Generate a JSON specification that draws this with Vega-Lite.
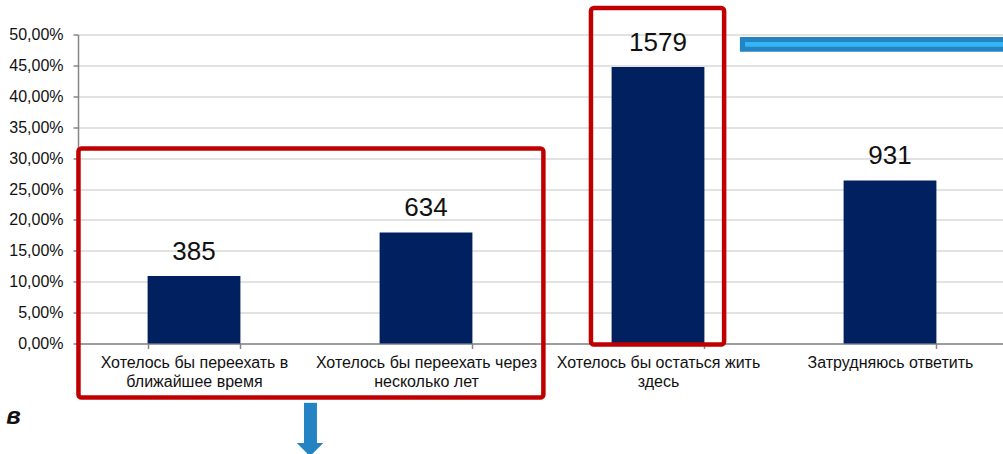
{
  "$schema": "https://vega.github.io/schema/vega-lite/v6.json",
  "width": 928,
  "height": 309,
  "autosize": "none",
  "padding": {"left": 78, "top": 34.5, "right": 0, "bottom": 110.5},
  "config": {"view": {"stroke": null}, "font": "Liberation Sans"},
  "layer": [
    {
      "data": {"values": [
        {"category": "Хотелось бы переехать в ближайшее время", "pct": 0.1091, "count": 385},
        {"category": "Хотелось бы переехать через несколько лет", "pct": 0.1797, "count": 634},
        {"category": "Хотелось бы остаться жить здесь", "pct": 0.4474, "count": 1579},
        {"category": "Затрудняюсь ответить", "pct": 0.2638, "count": 931}
      ]},
      "encoding": {
        "x": {
          "field": "category", "type": "nominal", "sort": null,
          "scale": {"paddingInner": 0.6, "paddingOuter": 0.3},
          "axis": {
            "title": null, "labelAngle": 0, "labelFontSize": 16, "labelLineHeight": 19,
            "labelPadding": 6, "labelColor": "#111", "labelLimit": 400,
            "tickBand": "extent", "tickSize": 5, "tickColor": "#868686", "tickWidth": 1.5,
            "domainColor": "#868686", "domainWidth": 1.5,
            "labelExpr": "datum.label == 'Хотелось бы переехать в ближайшее время' ? ['Хотелось бы переехать в', 'ближайшее время'] : datum.label == 'Хотелось бы переехать через несколько лет' ? ['Хотелось бы переехать через', 'несколько лет'] : datum.label == 'Хотелось бы остаться жить здесь' ? ['Хотелось бы остаться жить', 'здесь'] : datum.label"
          }
        },
        "y": {
          "field": "pct", "type": "quantitative",
          "scale": {"domain": [0, 0.5], "nice": false},
          "axis": {
            "title": null,
            "values": [0, 0.05, 0.1, 0.15, 0.2, 0.25, 0.3, 0.35, 0.4, 0.45, 0.5],
            "labelExpr": "replace(format(datum.value, '.2%'), '.', ',')",
            "labelOverlap": false,
            "labelFontSize": 16, "labelColor": "#111", "labelPadding": 10,
            "tickSize": 5, "tickColor": "#868686", "tickWidth": 1.5,
            "domainColor": "#868686", "domainWidth": 1.5,
            "gridColor": "#d9d9d9", "gridWidth": 1.5
          }
        }
      },
      "layer": [
        {"mark": {"type": "bar", "color": "#002060"}},
        {
          "mark": {"type": "text", "baseline": "alphabetic", "dy": -16, "fontSize": 26, "color": "#111"},
          "encoding": {"text": {"field": "count", "type": "quantitative"}}
        }
      ]
    },
    {
      "layer": [
        {
          "data": {"values": [
            {"x0": 0.002, "x1": 2.006, "y0": 0.3155, "y1": -0.0874},
            {"x0": 2.211, "x1": 2.785, "y0": 0.543, "y1": -0.0016}
          ]},
          "mark": {"type": "rect", "fill": "transparent", "stroke": "#c00000", "strokeWidth": 4.5, "cornerRadius": 3},
          "encoding": {
            "x": {"field": "x0", "type": "quantitative", "scale": {"domain": [0, 4], "nice": false, "zero": false}, "axis": null},
            "x2": {"field": "x1"},
            "y": {"field": "y0", "type": "quantitative", "scale": {"domain": [0, 0.5], "nice": false},
              "axis": {
                "title": null,
                "values": [0, 0.05, 0.1, 0.15, 0.2, 0.25, 0.3, 0.35, 0.4, 0.45, 0.5],
                "labelExpr": "replace(format(datum.value, '.2%'), '.', ',')",
                "labelOverlap": false,
                "labelFontSize": 16, "labelColor": "#111", "labelPadding": 10,
                "tickSize": 5, "tickColor": "#868686", "tickWidth": 1.5,
                "domainColor": "#868686", "domainWidth": 1.5,
                "gridColor": "#d9d9d9", "gridWidth": 1.5
              }},
            "y2": {"field": "y1"}
          }
        },
        {
          "data": {"values": [
            {"x0": 2.853, "x1": 4.2, "y0": 0.496, "y1": 0.472, "part": "outer"},
            {"x0": 0.974, "x1": 1.030, "y0": -0.096, "y1": -0.163, "part": "outer"},
            {"x0": 2.875, "x1": 4.2, "y0": 0.488, "y1": 0.480, "part": "inner"}
          ]},
          "mark": {"type": "rect"},
          "encoding": {
            "x": {"field": "x0", "type": "quantitative", "scale": {"domain": [0, 4], "nice": false, "zero": false}, "axis": null},
            "x2": {"field": "x1"},
            "y": {"field": "y0", "type": "quantitative", "scale": {"domain": [0, 0.5], "nice": false},
              "axis": {
                "title": null,
                "values": [0, 0.05, 0.1, 0.15, 0.2, 0.25, 0.3, 0.35, 0.4, 0.45, 0.5],
                "labelExpr": "replace(format(datum.value, '.2%'), '.', ',')",
                "labelOverlap": false,
                "labelFontSize": 16, "labelColor": "#111", "labelPadding": 10,
                "tickSize": 5, "tickColor": "#868686", "tickWidth": 1.5,
                "domainColor": "#868686", "domainWidth": 1.5,
                "gridColor": "#d9d9d9", "gridWidth": 1.5
              }},
            "y2": {"field": "y1"},
            "color": {"field": "part", "type": "nominal", "scale": {"domain": ["outer", "inner"], "range": ["#2484c3", "#35b6f4"]}, "legend": null}
          }
        },
        {
          "data": {"values": [{"x": 1.0, "y": -0.161}]},
          "mark": {"type": "point", "shape": "M-1,0L1,0L0,1Z", "filled": true, "size": 700, "color": "#2484c3", "opacity": 1},
          "encoding": {
            "x": {"field": "x", "type": "quantitative", "scale": {"domain": [0, 4], "nice": false, "zero": false}, "axis": null},
            "y": {"field": "y", "type": "quantitative", "scale": {"domain": [0, 0.5], "nice": false},
              "axis": {
                "title": null,
                "values": [0, 0.05, 0.1, 0.15, 0.2, 0.25, 0.3, 0.35, 0.4, 0.45, 0.5],
                "labelExpr": "replace(format(datum.value, '.2%'), '.', ',')",
                "labelOverlap": false,
                "labelFontSize": 16, "labelColor": "#111", "labelPadding": 10,
                "tickSize": 5, "tickColor": "#868686", "tickWidth": 1.5,
                "domainColor": "#868686", "domainWidth": 1.5,
                "gridColor": "#d9d9d9", "gridWidth": 1.5
              }}
          }
        },
        {
          "data": {"values": [{"x": -0.278, "y": -0.13, "t": "в"}]},
          "mark": {"type": "text", "baseline": "alphabetic", "fontSize": 24, "fontStyle": "italic", "fontWeight": "bold", "color": "#111"},
          "encoding": {
            "x": {"field": "x", "type": "quantitative", "scale": {"domain": [0, 4], "nice": false, "zero": false}, "axis": null},
            "y": {"field": "y", "type": "quantitative", "scale": {"domain": [0, 0.5], "nice": false},
              "axis": {
                "title": null,
                "values": [0, 0.05, 0.1, 0.15, 0.2, 0.25, 0.3, 0.35, 0.4, 0.45, 0.5],
                "labelExpr": "replace(format(datum.value, '.2%'), '.', ',')",
                "labelOverlap": false,
                "labelFontSize": 16, "labelColor": "#111", "labelPadding": 10,
                "tickSize": 5, "tickColor": "#868686", "tickWidth": 1.5,
                "domainColor": "#868686", "domainWidth": 1.5,
                "gridColor": "#d9d9d9", "gridWidth": 1.5
              }},
            "text": {"field": "t"}
          }
        }
      ]
    }
  ],
  "resolve": {"scale": {"x": "independent", "color": "independent"}}
}
